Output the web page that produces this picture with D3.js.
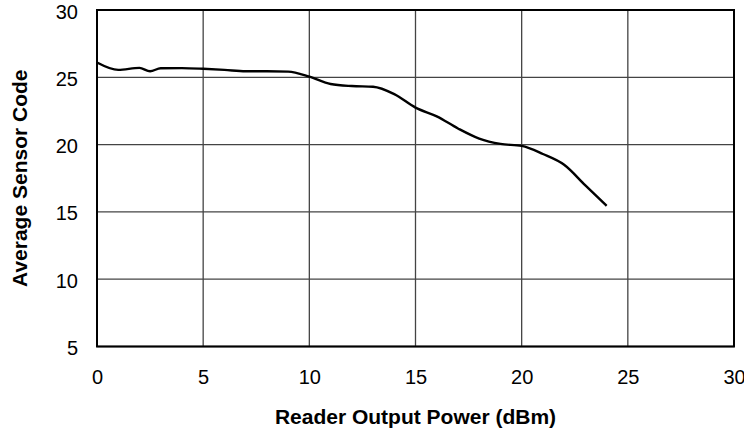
<!DOCTYPE html>
<html>
<head>
<meta charset="utf-8">
<script src="https://cdn.jsdelivr.net/npm/d3@7"></script>
<style>
  body { margin: 0; background: white; }
  text { font-family: "Liberation Sans", Arial, sans-serif; }
</style>
</head>
<body>
<div id="chart"></div>
<script>
// Reader output power (dBm)
const power = [0, 1, 2, 2.5, 3, 4, 5, 6, 7, 8, 9, 10, 11, 12, 13, 14, 15, 16, 17, 18, 19, 20, 21, 22, 23, 24];
// Average sensor code
const sensorCode = [26.1, 25.55, 25.7, 25.45, 25.67, 25.68, 25.63, 25.55, 25.45, 25.45, 25.42, 25.05, 24.5, 24.35, 24.3, 23.75, 22.75, 22.1, 21.2, 20.45, 20.05, 19.9, 19.3, 18.5, 16.97, 15.45];

const xTicks = [0, 5, 10, 15, 20, 25, 30];
const yTicks = [5, 10, 15, 20, 25, 30];

const data = power.map((p, i) => ({ x: p, y: sensorCode[i] }));

let width = 744, height = 433;
let margin = { top: 10, right: 10, bottom: 86.5, left: 97 };

let svg = d3.select('#chart')
    .append('svg')
    .attr('width', width)
    .attr('height', height)
    .style('background', 'white');

let xScale = d3.scaleLinear()
    .domain([0, 30])
    .range([margin.left, width - margin.right]);

let yScale = d3.scaleLinear()
    .domain([5, 30])
    .range([height - margin.bottom, margin.top]);

// grid lines
svg.append('g')
    .selectAll('line')
    .data(xTicks)
    .enter()
    .append('line')
    .attr('x1', d => xScale(d))
    .attr('x2', d => xScale(d))
    .attr('y1', margin.top)
    .attr('y2', height - margin.bottom)
    .attr('stroke', '#444')
    .attr('stroke-width', 1.3);

svg.append('g')
    .selectAll('line')
    .data(yTicks)
    .enter()
    .append('line')
    .attr('x1', margin.left)
    .attr('x2', width - margin.right)
    .attr('y1', d => yScale(d))
    .attr('y2', d => yScale(d))
    .attr('stroke', '#444')
    .attr('stroke-width', 1.3);

// plot frame
svg.append('rect')
    .attr('x', margin.left)
    .attr('y', margin.top)
    .attr('width', width - margin.left - margin.right)
    .attr('height', height - margin.top - margin.bottom)
    .attr('fill', 'none')
    .attr('stroke', 'black')
    .attr('stroke-width', 2);

// tick labels
let xaxis = svg.append('g')
    .attr('transform', `translate(0,${height - margin.bottom})`)
    .call(d3.axisBottom(xScale).tickValues(xTicks).tickSize(0).tickPadding(23));

let yaxis = svg.append('g')
    .attr('transform', `translate(${margin.left},0)`)
    .call(d3.axisLeft(yScale).tickValues(yTicks).tickSize(0).tickPadding(19));

[xaxis, yaxis].forEach(ax => {
    ax.select('.domain').remove();
    ax.selectAll('text')
      .style('font-family', '"Liberation Sans", Arial, sans-serif')
      .style('font-size', '20px')
      .attr('fill', 'black');
});
yaxis.selectAll('text').attr('dy', '0.4em');

// curve
const line = d3.line()
    .x(d => xScale(d.x))
    .y(d => yScale(d.y))
    .curve(d3.curveMonotoneX);

svg.append('path')
    .datum(data)
    .attr('d', line)
    .attr('fill', 'none')
    .attr('stroke', 'black')
    .attr('stroke-width', 2.4);

// axis titles
svg.append('text')
    .text('Reader Output Power (dBm)')
    .attr('x', (margin.left + width - margin.right) / 2)
    .attr('y', 424)
    .attr('text-anchor', 'middle')
    .style('font-size', '21px')
    .style('font-weight', 'bold');

svg.append('text')
    .text('Average Sensor Code')
    .attr('transform', `translate(27,${(margin.top + height - margin.bottom) / 2}) rotate(-90)`)
    .attr('text-anchor', 'middle')
    .style('font-size', '21px')
    .style('font-weight', 'bold');
</script>
</body>
</html>
